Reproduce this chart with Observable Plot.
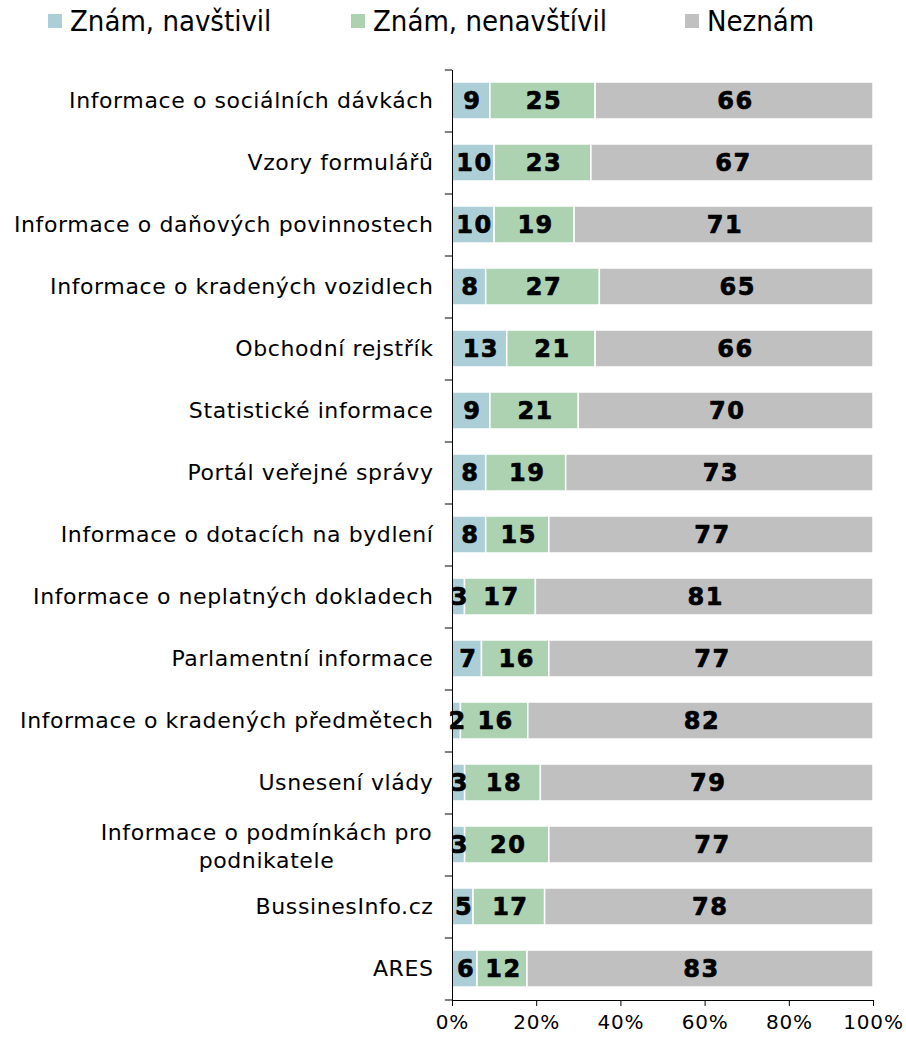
<!DOCTYPE html>
<html>
<head>
<meta charset="utf-8">
<script src="https://cdn.jsdelivr.net/npm/d3@7"></script>
<script src="https://cdn.jsdelivr.net/npm/@observablehq/plot@0.6"></script>
<style>
  body { margin: 0; background: #fff; }
  #wrap { width: 906px; position: relative; }
  #legend { position: relative; height: 40px; width: 906px; font-family: "DejaVu Sans Condensed", "DejaVu Sans", sans-serif; font-size: 29px; color: #000; }
  .item { position: absolute; top: 4px; display: flex; align-items: center; white-space: nowrap; }
  .sw { width: 14px; height: 14px; margin-right: 8px; }
  svg { display: block; }
</style>
</head>
<body>
<div id="wrap">
  <div id="legend"></div>
  <div id="chart"></div>
</div>
<script>
const categories = [
  "Informace o sociálních dávkách",
  "Vzory formulářů",
  "Informace o daňových povinnostech",
  "Informace o kradených vozidlech",
  "Obchodní rejstřík",
  "Statistické informace",
  "Portál veřejné správy",
  "Informace o dotacích na bydlení",
  "Informace o neplatných dokladech",
  "Parlamentní informace",
  "Informace o kradených předmětech",
  "Usnesení vlády",
  "Informace o podmínkách pro\npodnikatele",
  "BussinesInfo.cz",
  "ARES"
];
const seriesNames = ["Znám, navštivil", "Znám, nenavštívil", "Neznám"];
const seriesColors = ["#accfd7", "#acd2b2", "#c0c0c0"];
const znamNavstivil =   [9, 10, 10, 8, 13, 9, 8, 8, 3, 7, 2, 3, 3, 5, 6];
const znamNenavstivil = [25, 23, 19, 27, 21, 21, 19, 15, 17, 16, 16, 18, 20, 17, 12];
const neznam =          [66, 67, 71, 65, 66, 70, 73, 77, 81, 77, 82, 79, 77, 78, 83];
const xTicks = [0, 0.2, 0.4, 0.6, 0.8, 1];

const seriesValues = [znamNavstivil, znamNenavstivil, neznam];
const data = [];
seriesNames.forEach((s, si) => {
  categories.forEach((c, ci) => {
    data.push({category: c, series: s, value: seriesValues[si][ci]});
  });
});

// legend
const legendLeft = [48, 351, 685];
const legend = document.getElementById("legend");
seriesNames.forEach((s, i) => {
  const it = document.createElement("div");
  it.className = "item";
  it.style.left = legendLeft[i] + "px";
  it.innerHTML = `<span class="sw" style="background:${seriesColors[i]}"></span><span>${s}</span>`;
  legend.appendChild(it);
});

const width = 906, height = 1000, marginTop = 30, marginBottom = 40, marginLeft = 452, marginRight = 33;
const step = (height - marginTop - marginBottom) / categories.length;
const multi = categories.filter(c => c.includes("\n"));
const single = categories.filter(c => !c.includes("\n"));

const chart = Plot.plot({
  width, height, marginTop, marginBottom, marginLeft, marginRight,
  style: {fontFamily: "DejaVu Sans, sans-serif", color: "#000", background: "#fff"},
  x: {domain: [0, 1], axis: null},
  y: {domain: categories, paddingInner: 0.4, paddingOuter: 0.2, axis: null},
  color: {domain: seriesNames, range: seriesColors},
  marks: [
    Plot.barX(data, Plot.stackX({
      x: "value", y: "category", fill: "series", z: "series",
      offset: "normalize", order: seriesNames, stroke: "white", strokeWidth: 1.5
    })),
    Plot.text(data, Plot.stackX({
      x: "value", y: "category", z: "series", text: "value",
      offset: "normalize", order: seriesNames,
      fontSize: 24, fontWeight: "bold", fill: "#000", stroke: "#000", strokeWidth: 0.7, dx: 1
    })),
    // y axis line
    Plot.ruleX([0], {stroke: "#000", strokeWidth: 1}),
    // x axis line
    Plot.frame({anchor: "bottom", stroke: "#000", strokeWidth: 1}),
    // category boundary ticks
    Plot.ruleY(categories, {y: d => d, x1: -0.017, x2: 0, dy: -step / 2, stroke: "#000"}),
    Plot.ruleY([categories[categories.length - 1]], {y: d => d, x1: -0.017, x2: 0, dy: step / 2, stroke: "#000"}),
    // category labels
    Plot.text(single, {y: d => d, x: 0, dx: -19, textAnchor: "end", fontSize: 22, fill: "#000"}),
    Plot.text(multi, {y: d => d, x: 0, dx: -186, textAnchor: "middle", lineAnchor: "middle", lineHeight: 1.25, fontSize: 22, fill: "#000"}),
    Plot.axisX({ticks: xTicks, tickFormat: d3.format(".0%"), tickSize: 6, tickPadding: 8, fontSize: 20, stroke: "#000", label: null})
  ]
});
const textGroups = chart.querySelectorAll('g[aria-label="text"]');
textGroups[0].style.letterSpacing = "1.5px";
textGroups[0].style.paintOrder = "normal";
textGroups[1].style.letterSpacing = "0.6px";
textGroups[2].style.letterSpacing = "0.6px";
const xl = chart.querySelector('g[aria-label="x-axis tick label"]');
if (xl) xl.style.letterSpacing = "0.8px";
document.getElementById("chart").appendChild(chart);
</script>
</body>
</html>
